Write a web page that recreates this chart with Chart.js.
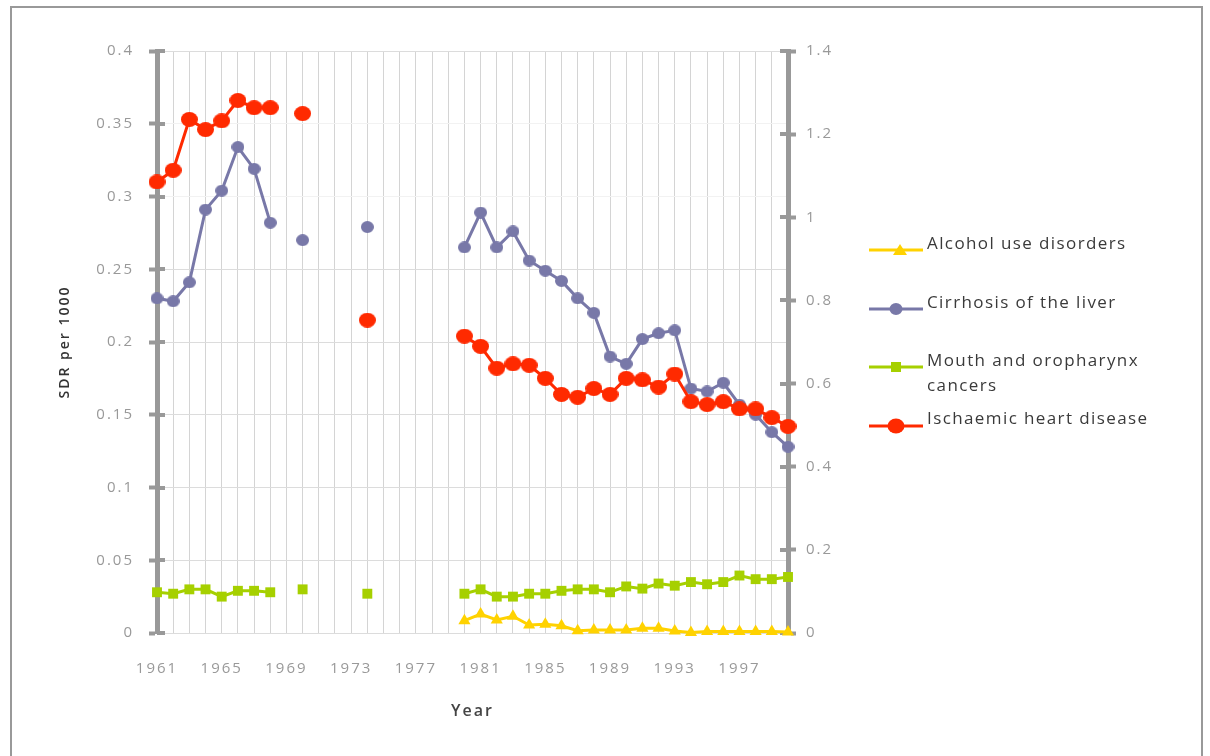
<!DOCTYPE html>
<html>
<head>
<meta charset="utf-8">
<script src="https://cdn.jsdelivr.net/npm/chart.js@4.4.1/dist/chart.umd.min.js"></script>
<style>
  body { margin: 0; background: #fff; }
  #wrap { position: relative; width: 1210px; height: 756px; overflow: hidden; background: #fff; }
  #frame { position: absolute; left: 10px; top: 6px; width: 1193px; height: 800px; border: 2px solid #999; box-sizing: border-box; }
  canvas { position: absolute; left: 0; top: 0; }
  .lg { position: absolute; left: 869px; font-family: "Open Sans", sans-serif; font-size: 17px; letter-spacing: 1.4px; color: #3a3a3a; line-height: 25px; }
  .lg svg { position: absolute; left: 0; top: 0px; }
  .lg span { position: absolute; left: 58px; top: -13px; white-space: nowrap; }
</style>
</head>
<body>
<div id="wrap">
  <div id="frame"></div>
  <canvas id="chart" width="1210" height="756"></canvas>
  <div class="lg" style="top:243px">
    <svg width="54" height="14"><line x1="0" y1="7" x2="54" y2="7" stroke="#ffd200" stroke-width="3"/><polygon points="31,1 38,12 24,12" fill="#ffd200"/></svg>
    <span>Alcohol use disorders</span>
  </div>
  <div class="lg" style="top:302px">
    <svg width="54" height="14"><line x1="0" y1="7" x2="54" y2="7" stroke="#7878a8" stroke-width="3"/><ellipse cx="27" cy="7" rx="6.5" ry="6" fill="#7878a8"/></svg>
    <span>Cirrhosis of the liver</span>
  </div>
  <div class="lg" style="top:360px">
    <svg width="54" height="14"><line x1="0" y1="7" x2="54" y2="7" stroke="#a6d000" stroke-width="3"/><rect x="22" y="2" width="10" height="10" fill="#a6d000"/></svg>
    <span>Mouth and oropharynx<br>cancers</span>
  </div>
  <div class="lg" style="top:418px">
    <svg width="54" height="16"><line x1="0" y1="8" x2="54" y2="8" stroke="#ff2a00" stroke-width="3"/><ellipse cx="27" cy="8" rx="8.5" ry="7.5" fill="#ff2a00"/></svg>
    <span>Ischaemic heart disease</span>
  </div>
</div>
<script>
// Годы (категории оси X)
const years = ['1961','1962','1963','1964','1965','1966','1967','1968','1969','1970',
               '1971','1972','1973','1974','1975','1976','1977','1978','1979','1980',
               '1981','1982','1983','1984','1985','1986','1987','1988','1989','1990',
               '1991','1992','1993','1994','1995','1996','1997','1998','1999','2000'];

// SDR per 1000, null = нет данных
const ischaemic = [0.310, 0.318, 0.353, 0.346, 0.352, 0.366, 0.361, 0.361, null, 0.357,
                   null, null, null, 0.215, null, null, null, null, null, 0.204,
                   0.197, 0.182, 0.185, 0.184, 0.175, 0.164, 0.162, 0.168, 0.164, 0.175,
                   0.174, 0.169, 0.178, 0.159, 0.157, 0.159, 0.154, 0.154, 0.148, 0.142];

const cirrhosis = [0.230, 0.228, 0.241, 0.291, 0.304, 0.334, 0.319, 0.282, null, 0.270,
                   null, null, null, 0.279, null, null, null, null, null, 0.265,
                   0.289, 0.265, 0.276, 0.256, 0.249, 0.242, 0.230, 0.220, 0.190, 0.185,
                   0.202, 0.206, 0.208, 0.168, 0.166, 0.172, 0.157, 0.150, 0.138, 0.128];

const mouth = [0.028, 0.027, 0.030, 0.030, 0.025, 0.029, 0.029, 0.028, null, 0.030,
               null, null, null, 0.027, null, null, null, null, null, 0.027,
               0.030, 0.025, 0.025, 0.027, 0.027, 0.029, 0.030, 0.030, 0.028, 0.032,
               0.0305, 0.034, 0.0325, 0.035, 0.0335, 0.035, 0.0395, 0.037, 0.037, 0.0385];

const alcohol = [null, null, null, null, null, null, null, null, null, null,
                 null, null, null, null, null, null, null, null, null, 0.0085,
                 0.013, 0.009, 0.0115, 0.0055, 0.006, 0.005, 0.0016, 0.002, 0.002, 0.002,
                 0.0032, 0.0032, 0.0014, 0.0003, 0.001, 0.001, 0.001, 0.001, 0.001, 0.0007];

// Подписи осей
const leftTicks = ['0', '0.05', '0.1', '0.15', '0.2', '0.25', '0.3', '0.35', '0.4'];
const rightTicks = ['0', '0.2', '0.4', '0.6', '0.8', '1', '1.2', '1.4'];

// Эллипс как картинка для точки
function ellipse(w, h, color) {
    const c = document.createElement('canvas');
    c.width = w; c.height = h;
    const g = c.getContext('2d');
    g.fillStyle = color;
    g.beginPath();
    g.ellipse(w / 2, h / 2, w / 2, h / 2, 0, 0, Math.PI * 2);
    g.fill();
    return c;
}

const AXIS = '#999';
const tickFont = { family: 'Open Sans', size: 15 };

// Засечки внутри графика + разрядка текста
const axisCross = {
    id: 'axisCross',
    beforeInit(chart) { chart.ctx.letterSpacing = '2px'; },
    beforeDraw(chart) { chart.ctx.letterSpacing = '2px'; },
    beforeDatasetsDraw(chart) {
        const ctx = chart.ctx;
        ctx.save();
        ctx.strokeStyle = AXIS;
        ctx.lineWidth = 4;
        ['y', 'y2'].forEach(id => {
            const s = chart.scales[id];
            const x0 = id === 'y' ? s.right : s.left;
            const dir = id === 'y' ? 1 : -1;
            s.ticks.forEach((t, i) => {
                const y = Math.round(s.getPixelForTick(i));
                ctx.beginPath();
                ctx.moveTo(x0, y);
                ctx.lineTo(x0 + dir * 8, y);
                ctx.stroke();
            });
        });
        ctx.restore();
    }
};

const ctx = document.getElementById('chart').getContext('2d');
const chart = new Chart(ctx, {
    type: 'line',
    data: {
        labels: years,
        datasets: [
            { label: 'Ischaemic heart disease', data: ischaemic, borderColor: '#ff2a00', backgroundColor: '#ff2a00',
              borderWidth: 3, pointStyle: ellipse(17, 15, '#ff2a00'), yAxisID: 'y' },
            { label: 'Cirrhosis of the liver', data: cirrhosis, borderColor: '#7878a8', backgroundColor: '#7878a8',
              borderWidth: 3, pointStyle: ellipse(13, 12, '#7878a8'), yAxisID: 'y' },
            { label: 'Mouth and oropharynx cancers', data: mouth, borderColor: '#a6d000', backgroundColor: '#a6d000',
              borderWidth: 3, pointStyle: 'rect', pointRadius: 7, pointBorderWidth: 0, yAxisID: 'y' },
            { label: 'Alcohol use disorders', data: alcohol, borderColor: '#ffd200', backgroundColor: '#ffd200',
              borderWidth: 3, pointStyle: 'triangle', pointRadius: 7, pointBorderWidth: 0, yAxisID: 'y' }
        ]
    },
    options: {
        responsive: false,
        animation: false,
        spanGaps: false,
        clip: false,
        layout: { padding: { top: 51, left: 0, right: 0, bottom: 0 } },
        elements: { line: { tension: 0 }, point: { pointRadius: 6, hoverRadius: 6 } },
        plugins: { legend: { display: false }, tooltip: { enabled: false } },
        scales: {
            x: {
                offset: false,
                border: { display: false },
                grid: { color: '#d4d4d4', lineWidth: 1, drawTicks: false },
                ticks: {
                    autoSkip: false, maxRotation: 0, padding: 27, color: '#999', font: tickFont,
                    callback: (v, i) => (i % 4 === 0 ? years[i] : '')
                },
                title: { display: true, text: 'Year', color: '#444', padding: { top: 0, bottom: 35 },
                         font: { family: 'Open Sans', size: 16, weight: '600' } },
                afterFit: s => { s.height = 123; }
            },
            y: {
                position: 'left', min: 0, max: 0.4,
                border: { display: true, color: AXIS, width: 5 },
                grid: { color: c => (c.index === 6 || c.index === 7 ? '#f2f2f2' : '#dcdcdc'),
                        tickColor: AXIS, tickLength: 8, tickWidth: 4 },
                ticks: { stepSize: 0.05, padding: 15, color: '#999', font: tickFont,
                         callback: (v, i) => leftTicks[i] },
                title: { display: true, text: 'SDR per 1000', color: '#333', padding: { top: 57, bottom: 0 },
                         font: { family: 'Open Sans', size: 14, weight: '600' } },
                afterFit: s => { s.width = 157; }
            },
            y2: {
                position: 'right', min: 0, max: 1.4,
                border: { display: true, color: AXIS, width: 5 },
                grid: { drawOnChartArea: false, tickColor: AXIS, tickLength: 8, tickWidth: 4 },
                ticks: { stepSize: 0.2, padding: 10, color: '#999', font: tickFont,
                         callback: (v, i) => rightTicks[i] },
                afterFit: s => { s.width = 422; }
            }
        }
    },
    plugins: [axisCross]
});
</script>
</body>
</html>
